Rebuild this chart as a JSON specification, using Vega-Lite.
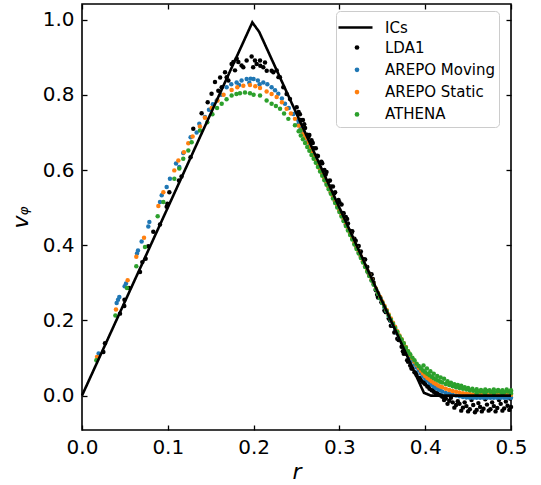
{
  "$schema": "https://vega.github.io/schema/vega-lite/v6.json",
  "width": 429,
  "height": 426,
  "autosize": {"type": "none"},
  "padding": {"left": 82, "top": 4, "right": 30, "bottom": 55},
  "background": "white",
  "config": {
    "view": {"stroke": "black", "strokeWidth": 1.6},
    "font": "DejaVu Sans",
    "axis": {
      "grid": false, "domain": false, "tickColor": "black", "tickWidth": 1.3, "tickSize": -5, "labelFlush": false,
      "labelColor": "black", "labelFont": "DejaVu Sans", "labelFontSize": 20,
      "titleFont": "DejaVu Sans", "titleFontSize": 22, "titleFontWeight": "normal",
      "titleFontStyle": "italic", "titleColor": "black"
    },
    "legend": {"labelFont": "DejaVu Sans", "labelFontSize": 15, "labelColor": "black", "titleFont": "DejaVu Sans"}
  },
  "resolve": {"axis": {"x": "independent", "y": "independent"}},
  "data": {"values": [
    {"r":0,"I":0},{"r":0.1985,"I":0.9925},{"r":0.2065,"I":0.9675},{"r":0.3985,"I":0.0075},{"r":0.4065,"I":0},{"r":0.5,"I":0},

    {"r":0.0249,"L":0.116},{"r":0.0268,"L":0.139},{"r":0.0443,"L":0.218},{"r":0.0493,"L":0.238},{"r":0.0495,"L":0.255},{"r":0.0548,"L":0.286},{"r":0.0676,"L":0.329},{"r":0.0703,"L":0.355},{"r":0.0742,"L":0.364},{"r":0.0773,"L":0.397},{"r":0.0831,"L":0.436},{"r":0.0909,"L":0.455},{"r":0.0987,"L":0.502},{"r":0.0995,"L":0.51},{"r":0.1018,"L":0.541},{"r":0.113,"L":0.572},{"r":0.116,"L":0.583},{"r":0.1265,"L":0.634},{"r":0.1297,"L":0.71},{"r":0.1394,"L":0.751},{"r":0.1465,"L":0.78},{"r":0.151,"L":0.803},{"r":0.155,"L":0.834},{"r":0.1589,"L":0.811},{"r":0.161,"L":0.846},{"r":0.1628,"L":0.82},{"r":0.1667,"L":0.86},{"r":0.1686,"L":0.847},{"r":0.1706,"L":0.838},{"r":0.1744,"L":0.882},{"r":0.1764,"L":0.887},{"r":0.1783,"L":0.865},{"r":0.1803,"L":0.896},{"r":0.1822,"L":0.887},{"r":0.186,"L":0.878},{"r":0.188,"L":0.873},{"r":0.1919,"L":0.891},{"r":0.1977,"L":0.902},{"r":0.1995,"L":0.873},{"r":0.2016,"L":0.891},{"r":0.2036,"L":0.882},{"r":0.2075,"L":0.891},{"r":0.2078,"L":0.877},{"r":0.2113,"L":0.873},{"r":0.2133,"L":0.886},{"r":0.2153,"L":0.864},{"r":0.221,"L":0.864},{"r":0.223,"L":0.86},{"r":0.2269,"L":0.865},{"r":0.229,"L":0.847},{"r":0.2307,"L":0.847},{"r":0.2346,"L":0.82},{"r":0.2385,"L":0.802},{"r":0.2424,"L":0.789},{"r":0.2502,"L":0.767},

    {"r":0.0194,"M":0.112},{"r":0.0404,"M":0.246},{"r":0.042,"M":0.255},{"r":0.0435,"M":0.262},{"r":0.0497,"M":0.291},{"r":0.0513,"M":0.298},{"r":0.0641,"M":0.378},{"r":0.0653,"M":0.386},{"r":0.0695,"M":0.41},{"r":0.0773,"M":0.45},{"r":0.0785,"M":0.462},{"r":0.0909,"M":0.515},{"r":0.0929,"M":0.533},{"r":0.0987,"M":0.555},{"r":0.1025,"M":0.577},{"r":0.1096,"M":0.617},{"r":0.1134,"M":0.608},{"r":0.118,"M":0.645},{"r":0.1266,"M":0.687},{"r":0.1336,"M":0.7},{"r":0.1367,"M":0.723},{"r":0.1433,"M":0.741},{"r":0.148,"M":0.76},{"r":0.1525,"M":0.775},{"r":0.157,"M":0.785},{"r":0.162,"M":0.8},{"r":0.1686,"M":0.82},{"r":0.174,"M":0.828},{"r":0.1802,"M":0.833},{"r":0.183,"M":0.826},{"r":0.186,"M":0.838},{"r":0.1919,"M":0.842},{"r":0.195,"M":0.832},{"r":0.1965,"M":0.843},{"r":0.2,"M":0.842},{"r":0.205,"M":0.838},{"r":0.207,"M":0.828},{"r":0.2113,"M":0.833},{"r":0.216,"M":0.828},{"r":0.221,"M":0.82},{"r":0.225,"M":0.812},{"r":0.2288,"M":0.803},{"r":0.233,"M":0.79},{"r":0.2366,"M":0.776},{"r":0.241,"M":0.765},{"r":0.2463,"M":0.749},{"r":0.2521,"M":0.732},

    {"r":0.0175,"S":0.103},{"r":0.0396,"S":0.229},{"r":0.0532,"S":0.307},{"r":0.0633,"S":0.369},{"r":0.0723,"S":0.42},{"r":0.089,"S":0.504},{"r":0.0948,"S":0.541},{"r":0.1076,"S":0.599},{"r":0.1123,"S":0.625},{"r":0.1188,"S":0.647},{"r":0.1239,"S":0.671},{"r":0.1289,"S":0.689},{"r":0.1375,"S":0.716},{"r":0.1433,"S":0.739},{"r":0.1511,"S":0.765},{"r":0.158,"S":0.785},{"r":0.165,"S":0.8},{"r":0.1744,"S":0.813},{"r":0.181,"S":0.82},{"r":0.188,"S":0.824},{"r":0.1958,"S":0.826},{"r":0.202,"S":0.823},{"r":0.2075,"S":0.818},{"r":0.2152,"S":0.809},{"r":0.221,"S":0.802},{"r":0.2269,"S":0.794},{"r":0.233,"S":0.78},{"r":0.2385,"S":0.763},{"r":0.2435,"S":0.75},{"r":0.2482,"S":0.736},

    {"r":0.0167,"A":0.094},{"r":0.0389,"A":0.213},{"r":0.0524,"A":0.286},{"r":0.0633,"A":0.344},{"r":0.0734,"A":0.395},{"r":0.0882,"A":0.477},{"r":0.0948,"A":0.515},{"r":0.1076,"A":0.577},{"r":0.1134,"A":0.604},{"r":0.118,"A":0.63},{"r":0.1239,"A":0.652},{"r":0.1278,"A":0.674},{"r":0.1375,"A":0.705},{"r":0.146,"A":0.727},{"r":0.152,"A":0.748},{"r":0.1574,"A":0.765},{"r":0.1628,"A":0.776},{"r":0.1685,"A":0.788},{"r":0.1744,"A":0.798},{"r":0.18,"A":0.802},{"r":0.1841,"A":0.804},{"r":0.19,"A":0.806},{"r":0.1958,"A":0.804},{"r":0.2,"A":0.8},{"r":0.2075,"A":0.798},{"r":0.2152,"A":0.785},{"r":0.221,"A":0.776},{"r":0.226,"A":0.77},{"r":0.2308,"A":0.763},{"r":0.2355,"A":0.75},{"r":0.2405,"A":0.736},{"r":0.2482,"A":0.719},{"r":0.2545,"A":0.705},

    {"r":0.2525,"L":0.754,"M":0.723,"S":0.718,"A":0.703},
    {"r":0.255,"L":0.733,"M":0.711,"S":0.706,"A":0.692},
    {"r":0.2575,"L":0.733,"M":0.699,"S":0.695,"A":0.682},
    {"r":0.26,"L":0.712,"M":0.688,"S":0.685,"A":0.672},
    {"r":0.2625,"L":0.694,"M":0.676,"S":0.673,"A":0.661},
    {"r":0.265,"L":0.693,"M":0.664,"S":0.661,"A":0.651},
    {"r":0.2675,"L":0.679,"M":0.652,"S":0.65,"A":0.64},
    {"r":0.27,"L":0.658,"M":0.64,"S":0.638,"A":0.63},
    {"r":0.2725,"L":0.658,"M":0.628,"S":0.626,"A":0.619},
    {"r":0.275,"L":0.637,"M":0.615,"S":0.614,"A":0.608},
    {"r":0.2775,"L":0.619,"M":0.603,"S":0.602,"A":0.596},
    {"r":0.28,"L":0.618,"M":0.591,"S":0.59,"A":0.585},
    {"r":0.2825,"L":0.6,"M":0.579,"S":0.578,"A":0.573},
    {"r":0.285,"L":0.595,"M":0.566,"S":0.566,"A":0.561},
    {"r":0.2875,"L":0.571,"M":0.554,"S":0.554,"A":0.549},
    {"r":0.29,"L":0.556,"M":0.541,"S":0.541,"A":0.537},
    {"r":0.2925,"L":0.556,"M":0.529,"S":0.529,"A":0.524},
    {"r":0.295,"L":0.541,"M":0.517,"S":0.517,"A":0.512},
    {"r":0.2975,"L":0.517,"M":0.505,"S":0.505,"A":0.5},
    {"r":0.3,"L":0.514,"M":0.492,"S":0.492,"A":0.488},
    {"r":0.3025,"L":0.508,"M":0.48,"S":0.48,"A":0.476},
    {"r":0.305,"L":0.485,"M":0.467,"S":0.468,"A":0.464},
    {"r":0.3075,"L":0.475,"M":0.455,"S":0.455,"A":0.451},
    {"r":0.31,"L":0.458,"M":0.443,"S":0.443,"A":0.439},
    {"r":0.3125,"L":0.438,"M":0.431,"S":0.431,"A":0.427},
    {"r":0.315,"L":0.437,"M":0.418,"S":0.419,"A":0.415},
    {"r":0.3175,"L":0.417,"M":0.406,"S":0.406,"A":0.402},
    {"r":0.32,"L":0.398,"M":0.394,"S":0.394,"A":0.39},
    {"r":0.3225,"L":0.398,"M":0.381,"S":0.382,"A":0.378},
    {"r":0.325,"L":0.383,"M":0.369,"S":0.37,"A":0.366},
    {"r":0.3275,"L":0.363,"M":0.357,"S":0.357,"A":0.354},
    {"r":0.33,"L":0.362,"M":0.344,"S":0.345,"A":0.342},
    {"r":0.3325,"L":0.342,"M":0.332,"S":0.333,"A":0.33},
    {"r":0.335,"L":0.319,"M":0.32,"S":0.321,"A":0.318},
    {"r":0.3375,"L":0.323,"M":0.307,"S":0.309,"A":0.306},
    {"r":0.34,"L":0.3,"M":0.296,"S":0.297,"A":0.295},
    {"r":0.3425,"L":0.28,"M":0.283,"S":0.285,"A":0.283},
    {"r":0.345,"L":0.261,"M":0.271,"S":0.273,"A":0.271},
    {"r":0.3475,"L":0.261,"M":0.259,"S":0.262,"A":0.259},
    {"r":0.35,"L":0.246,"M":0.247,"S":0.25,"A":0.247},
    {"r":0.3525,"L":0.226,"M":0.235,"S":0.239,"A":0.236},
    {"r":0.355,"L":0.225,"M":0.224,"S":0.228,"A":0.225},
    {"r":0.3575,"L":0.205,"M":0.212,"S":0.216,"A":0.213},
    {"r":0.36,"L":0.186,"M":0.2,"S":0.205,"A":0.202},
    {"r":0.3625,"L":0.186,"M":0.189,"S":0.194,"A":0.191},
    {"r":0.365,"L":0.171,"M":0.178,"S":0.183,"A":0.18},
    {"r":0.3675,"L":0.151,"M":0.166,"S":0.171,"A":0.169},
    {"r":0.37,"L":0.15,"M":0.155,"S":0.16,"A":0.158},
    {"r":0.3725,"L":0.13,"M":0.145,"S":0.15,"A":0.149},
    {"r":0.375,"L":0.111,"M":0.133,"S":0.139,"A":0.139},
    {"r":0.3775,"L":0.111,"M":0.123,"S":0.129,"A":0.128},
    {"r":0.38,"L":0.09,"M":0.112,"S":0.118,"A":0.118},
    {"r":0.3825,"L":0.08,"M":0.101,"S":0.108,"A":0.11},
    {"r":0.385,"L":0.072,"M":0.092,"S":0.099,"A":0.101},
    {"r":0.3875,"L":0.062,"M":0.083,"S":0.09,"A":0.094},
    {"r":0.39,"L":0.055,"M":0.075,"S":0.082,"A":0.085},
    {"r":0.3925,"L":0.047,"M":0.067,"S":0.074,"A":0.079},
    {"r":0.395,"L":0.04,"M":0.059,"S":0.066,"A":0.073},
    {"r":0.3975,"L":0.035,"M":0.052,"S":0.059,"A":0.067},
    {"r":0.4,"L":0.03,"M":0.045,"S":0.052,"A":0.062},
    {"r":0.4025,"L":0.024,"M":0.04,"S":0.047,"A":0.058},
    {"r":0.405,"L":0.018,"M":0.034,"S":0.043,"A":0.054},
    {"r":0.4075,"L":0.014,"M":0.029,"S":0.038,"A":0.05},
    {"r":0.41,"L":0.01,"M":0.024,"S":0.034,"A":0.046},
    {"r":0.4125,"L":0.006,"M":0.02,"S":0.031,"A":0.043},
    {"r":0.415,"L":0.003,"M":0.017,"S":0.027,"A":0.04},
    {"r":0.4175,"L":0.001,"M":0.014,"S":0.024,"A":0.037},
    {"r":0.42,"L":-0.003,"M":0.011,"S":0.022,"A":0.035},
    {"r":0.424,"L":-0.008,"M":0.007,"S":0.018,"A":0.031},
    {"r":0.428,"L":-0.014,"M":0.004,"S":0.015,"A":0.028},
    {"r":0.432,"L":-0.018,"M":0.002,"S":0.012,"A":0.025},
    {"r":0.436,"L":-0.025,"M":0,"S":0.01,"A":0.022},
    {"r":0.44,"L":-0.022,"M":-0.002,"S":0.008,"A":0.02},
    {"r":0.444,"L":-0.032,"M":-0.004,"S":0.006,"A":0.018},
    {"r":0.448,"L":-0.028,"M":-0.005,"S":0.005,"A":0.016},
    {"r":0.452,"L":-0.036,"M":-0.006,"S":0.004,"A":0.014},
    {"r":0.456,"L":-0.025,"M":-0.006,"S":0.003,"A":0.013},
    {"r":0.46,"L":-0.038,"M":-0.006,"S":0.003,"A":0.012},
    {"r":0.464,"L":-0.03,"M":-0.006,"S":0.003,"A":0.011},
    {"r":0.468,"L":-0.035,"M":-0.006,"S":0.002,"A":0.01},
    {"r":0.472,"L":-0.024,"M":-0.006,"S":0.002,"A":0.012},
    {"r":0.476,"L":-0.036,"M":-0.006,"S":0.002,"A":0.01},
    {"r":0.48,"L":-0.028,"M":-0.006,"S":0.002,"A":0.009},
    {"r":0.484,"L":-0.033,"M":-0.006,"S":0.002,"A":0.011},
    {"r":0.488,"L":-0.022,"M":-0.006,"S":0.002,"A":0.01},
    {"r":0.492,"L":-0.034,"M":-0.006,"S":0.002,"A":0.009},
    {"r":0.496,"L":-0.027,"M":-0.006,"S":0.002,"A":0.011},
    {"r":0.5,"L":-0.03,"M":-0.006,"S":0.002,"A":0.01},

    {"r":0.254,"L":0.748},{"r":0.259,"L":0.722},{"r":0.264,"L":0.688},{"r":0.269,"L":0.672},{"r":0.274,"L":0.638},{"r":0.279,"L":0.622},{"r":0.284,"L":0.588},{"r":0.289,"L":0.572},{"r":0.294,"L":0.538},{"r":0.299,"L":0.52},{"r":0.304,"L":0.486},{"r":0.309,"L":0.47},{"r":0.314,"L":0.432},{"r":0.319,"L":0.412},{"r":0.324,"L":0.378},{"r":0.329,"L":0.362},{"r":0.334,"L":0.326},{"r":0.339,"L":0.31},{"r":0.344,"L":0.268},{"r":0.349,"L":0.248},{"r":0.354,"L":0.222},{"r":0.359,"L":0.2},{"r":0.364,"L":0.168},{"r":0.369,"L":0.148},{"r":0.374,"L":0.118},{"r":0.379,"L":0.094},{"r":0.384,"L":0.072},{"r":0.389,"L":0.06},{"r":0.394,"L":0.046},{"r":0.399,"L":0.036},{"r":0.404,"L":0.024},{"r":0.409,"L":0.014},{"r":0.414,"L":0.006},{"r":0.419,"L":0.0},
    {"r":0.422,"L":-0.012},{"r":0.426,"L":-0.022},{"r":0.43,"L":-0.006},{"r":0.434,"L":-0.032},{"r":0.438,"L":-0.015},{"r":0.442,"L":-0.04},{"r":0.446,"L":-0.018},{"r":0.45,"L":-0.042},{"r":0.454,"L":-0.012},{"r":0.458,"L":-0.044},{"r":0.462,"L":-0.02},{"r":0.466,"L":-0.042},{"r":0.47,"L":-0.01},{"r":0.474,"L":-0.04},{"r":0.478,"L":-0.018},{"r":0.482,"L":-0.042},{"r":0.486,"L":-0.012},{"r":0.49,"L":-0.04},{"r":0.494,"L":-0.016},{"r":0.498,"L":-0.038},{"r":0.499,"L":-0.008},

    {"r":0.398,"A":0.08},{"r":0.402,"A":0.072},{"r":0.406,"A":0.065},{"r":0.41,"A":0.058},{"r":0.414,"A":0.052},{"r":0.418,"A":0.048},{"r":0.422,"A":0.045},{"r":0.426,"A":0.038},{"r":0.43,"A":0.034},{"r":0.434,"A":0.03},{"r":0.438,"A":0.028},{"r":0.442,"A":0.026},{"r":0.446,"A":0.022},{"r":0.45,"A":0.02},{"r":0.455,"A":0.018},{"r":0.46,"A":0.017},{"r":0.465,"A":0.015},{"r":0.47,"A":0.016},{"r":0.475,"A":0.014},{"r":0.48,"A":0.016},{"r":0.485,"A":0.015},{"r":0.49,"A":0.014},{"r":0.495,"A":0.016},{"r":0.5,"A":0.014},{"r":0.46,"A":0.006},{"r":0.47,"A":0.005},{"r":0.48,"A":0.006},{"r":0.49,"A":0.005},{"r":0.5,"A":0.006}
  ]},
  "layer": [
    {
      "transform": [{"filter": "isValid(datum.L)"}],
      "mark": {"type": "point", "filled": true, "size": 20, "opacity": 1, "strokeWidth": 0},
      "encoding": {
        "x": {"field": "r", "type": "quantitative", "scale": {"domain": [0, 0.5], "nice": false, "zero": false},
              "axis": {"orient": "top", "values": [0, 0.1, 0.2, 0.3, 0.4, 0.5], "labels": false, "title": null}},
        "y": {"field": "L", "type": "quantitative", "scale": {"domain": [-0.0915, 1.0415], "nice": false, "zero": false},
              "axis": {"orient": "right", "values": [0, 0.2, 0.4, 0.6, 0.8, 1.0], "labels": false, "title": null}},
        "color": {"datum": "LDA1",
          "scale": {"domain": ["LDA1", "AREPO Moving", "AREPO Static", "ATHENA"], "range": ["#000000", "#1f77b4", "#ff7f0e", "#2ca02c"]},
          "legend": {
            "orient": "none", "legendX": 254, "legendY": 7,
            "title": " ", "titleFontSize": 15, "titlePadding": 10, "titleLimit": 300,
            "symbolType": "circle", "symbolSize": 22, "symbolOffset": 9.5, "labelOffset": 20.5,
            "rowPadding": 6.3, "padding": 4,
            "strokeColor": "#cccccc", "cornerRadius": 4, "fillColor": "rgba(255,255,255,0.8)"
          }
        }
      }
    },
    {
      "transform": [{"filter": "isValid(datum.M)"}],
      "mark": {"type": "point", "filled": true, "size": 20, "opacity": 1, "strokeWidth": 0},
      "encoding": {
        "x": {"field": "r", "type": "quantitative", "scale": {"domain": [0, 0.5], "nice": false, "zero": false},
              "axis": {"orient": "bottom", "values": [0, 0.1, 0.2, 0.3, 0.4, 0.5], "labels": false, "title": null}},
        "y": {"field": "M", "type": "quantitative", "scale": {"domain": [-0.0915, 1.0415], "nice": false, "zero": false},
              "axis": {"orient": "left", "values": [0, 0.2, 0.4, 0.6, 0.8, 1.0], "labels": false, "title": null}},
        "color": {"datum": "AREPO Moving", "scale": {"domain": ["LDA1", "AREPO Moving", "AREPO Static", "ATHENA"], "range": ["#000000", "#1f77b4", "#ff7f0e", "#2ca02c"]}}
      }
    },
    {
      "transform": [{"filter": "isValid(datum.S)"}],
      "mark": {"type": "point", "filled": true, "size": 20, "opacity": 1, "strokeWidth": 0},
      "encoding": {
        "x": {"field": "r", "type": "quantitative", "scale": {"domain": [0, 0.5], "nice": false, "zero": false}, "axis": null},
        "y": {"field": "S", "type": "quantitative", "scale": {"domain": [-0.0915, 1.0415], "nice": false, "zero": false}, "axis": null},
        "color": {"datum": "AREPO Static", "scale": {"domain": ["LDA1", "AREPO Moving", "AREPO Static", "ATHENA"], "range": ["#000000", "#1f77b4", "#ff7f0e", "#2ca02c"]}}
      }
    },
    {
      "transform": [{"filter": "isValid(datum.A)"}],
      "mark": {"type": "point", "filled": true, "size": 20, "opacity": 1, "strokeWidth": 0},
      "encoding": {
        "x": {"field": "r", "type": "quantitative", "scale": {"domain": [0, 0.5], "nice": false, "zero": false}, "axis": null},
        "y": {"field": "A", "type": "quantitative", "scale": {"domain": [-0.0915, 1.0415], "nice": false, "zero": false}, "axis": null},
        "color": {"datum": "ATHENA", "scale": {"domain": ["LDA1", "AREPO Moving", "AREPO Static", "ATHENA"], "range": ["#000000", "#1f77b4", "#ff7f0e", "#2ca02c"]}}
      }
    },
    {
      "transform": [{"filter": "isValid(datum.I)"}],
      "mark": {"type": "line", "color": "black", "strokeWidth": 2.6, "strokeJoin": "miter"},
      "encoding": {
        "x": {"field": "r", "type": "quantitative", "scale": {"domain": [0, 0.5], "nice": false, "zero": false},
              "axis": {"orient": "bottom", "values": [0, 0.1, 0.2, 0.3, 0.4, 0.5], "format": ".1f", "title": "r", "ticks": false, "labelPadding": 7, "titlePadding": 4}},
        "y": {"field": "I", "type": "quantitative", "scale": {"domain": [-0.0915, 1.0415], "nice": false, "zero": false},
              "axis": {"orient": "left", "values": [0, 0.2, 0.4, 0.6, 0.8, 1.0], "format": ".1f", "title": "vᵩ", "ticks": false, "labelPadding": 8, "titlePadding": 10}},
        "strokeDash": {"datum": "ICs",
          "scale": {"domain": ["ICs"], "range": [[1, 0]]},
          "legend": {
            "orient": "none", "legendX": 255, "legendY": 5, "title": null,
            "symbolType": "stroke", "symbolSize": 1156, "symbolStrokeWidth": 2.6, "symbolStrokeColor": "black",
            "labelOffset": 11, "padding": 0, "strokeColor": null, "fillColor": null
          }
        }
      }
    }
  ]
}
